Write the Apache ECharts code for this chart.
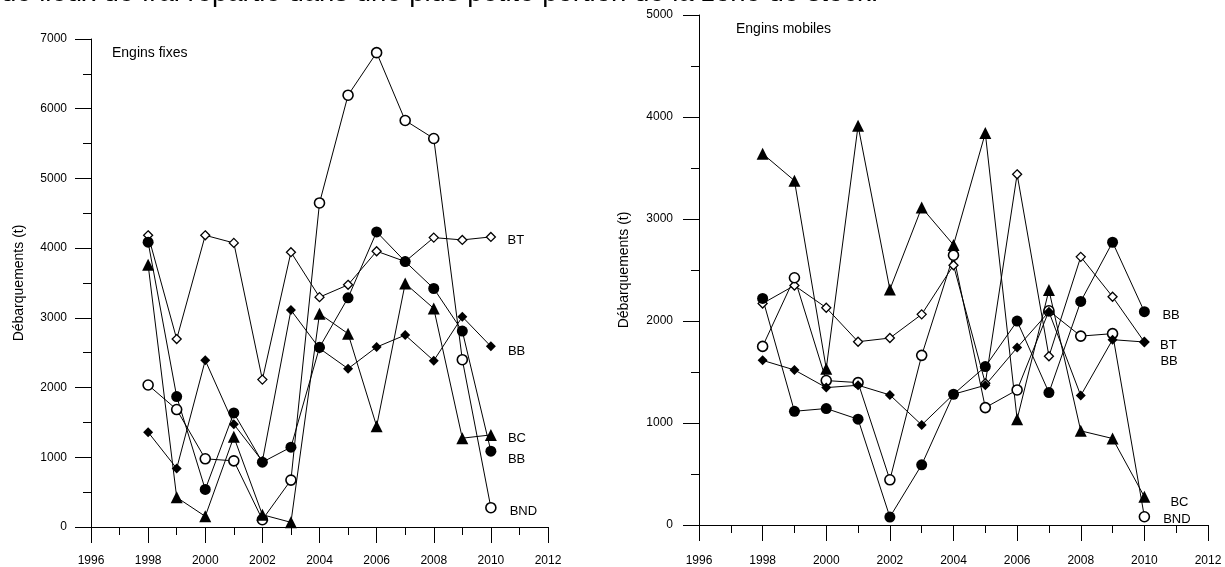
<!DOCTYPE html>
<html>
<head>
<meta charset="utf-8">
<script src="https://cdn.jsdelivr.net/npm/echarts@6/dist/echarts.min.js"></script>
<style>
html,body{margin:0;padding:0;background:#fff;}
#c{width:1225px;height:567px;}
</style>
</head>
<body>
<div id="c"></div>
<script>
// ---- data ----
var years = [1998,1999,2000,2001,2002,2003,2004,2005,2006,2007,2008,2009,2010];
var xTicks = [1996,1998,2000,2002,2004,2006,2008,2010,2012];

// Engins fixes
var fixBT       = [4184,2696,4184,4075,2114,3942,3297,3474,3956,3808,4151,4118,4161];
var fixBND      = [2037,1685, 978, 949, 105, 673,4648,6194,6804,5831,5573,2400, 277];
var fixBBcircle = [4085,1871, 539,1637, 930,1145,2577,3288,4233,3808,3421,2810,1088];
var fixBC       = [3760, 425, 153,1293, 176,  67,3059,2773,1446,3493,3135,1274,1321];
var fixBBdiam   = [1360, 840,2391,1474, 945,3111,2562,2271,2581,2753,2386,3016,2591];

// Engins mobiles
var mobBC       = [3640,3376,1533,3914,2309,3112,2746,3842,1037,2303, 923, 848, 277];
var mobBT       = [2172,2348,2130,1797,1833,2065,2547,1390,3438,1654,2629,2238,1794];
var mobBND      = [1751,2424,1416,1396, 443,1663,2645,1151,1324,2100,1852,1876,  81];
var mobBBcircle = [2221,1115,1142,1037,  78, 590,1282,1553,1999,1298,2192,2772,2091];
var mobBBdiam   = [1614,1520,1347,1370,1275, 981,1282,1370,1739,2090,1269,1817,1794];

var yTitle = 'Débarquements (t)';
var panelTitles = ['Engins fixes','Engins mobiles'];
var topText = 'de lieux de frai répartie dans une plus petite portion de la zone de stock.';

// ---- styles ----
var FONT = 'Liberation Sans, Arial, sans-serif';
var styles = {
  openDiamond:  {symbol:'diamond',  size:9,  fill:'#fff', border:1.3},
  openCircle:   {symbol:'circle',   size:10, fill:'#fff', border:1.6},
  fillCircle:   {symbol:'circle',   size:11, fill:'#000', border:0},
  fillTriangle: {symbol:'triangle', size:12, fill:'#000', border:0},
  fillDiamond:  {symbol:'diamond',  size:10, fill:'#000', border:0}
};

function mk(name, vals, st, axis, lab) {
  var s = styles[st];
  var data = years.map(function(y,i){ return [y, vals[i]]; });
  var last = data.length-1;
  data[last] = {
    value: data[last],
    label: {
      show: true, formatter: name, position: 'right', distance: 0,
      offset: [lab[0] - s.size/2, lab[1]],
      color: '#000', fontFamily: FONT, fontSize: 13
    }
  };
  return {
    type: 'line', name: name, xAxisIndex: axis, yAxisIndex: axis,
    data: data, symbol: s.symbol, symbolSize: s.size, showSymbol: true,
    lineStyle: {color:'#000', width:1},
    itemStyle: {color: s.fill, borderColor:'#000', borderWidth: s.border},
    emphasis: {disabled:true}, animation:false, z: 2
  };
}

function xAx(idx, margin) {
  return {
    type:'value', gridIndex: idx, min:1996, max:2012, interval:2,
    axisLine:{show:true, onZero:false, lineStyle:{color:'#000', width:1}},
    axisTick:{show:true, inside:false, length:16, lineStyle:{color:'#000', width:1}},
    minorTick:{show:true, splitNumber:2, length:8, lineStyle:{color:'#000', width:1}},
    splitLine:{show:false},
    axisLabel:{color:'#000', fontFamily:FONT, fontSize:12, margin:margin, formatter:function(v){return String(v);}}
  };
}
function yAx(idx, max, gap, margin) {
  return {
    type:'value', gridIndex: idx, min:0, max:max, interval:1000,
    name: yTitle, nameLocation:'middle', nameGap: gap, nameRotate: 90,
    nameTextStyle:{color:'#000', fontFamily:FONT, fontSize:14},
    axisLine:{show:true, lineStyle:{color:'#000', width:1}},
    axisTick:{show:true, inside:false, length:16, lineStyle:{color:'#000', width:1}},
    minorTick:{show:true, splitNumber:2, length:8, lineStyle:{color:'#000', width:1}},
    splitLine:{show:false},
    axisLabel:{color:'#000', fontFamily:FONT, fontSize:12, margin:margin, formatter:function(v){return String(v);}}
  };
}

var chart = echarts.init(document.getElementById('c'), null, {renderer:'canvas'});
chart.setOption({
  backgroundColor:'#fff',
  animation:false,
  grid:[
    {left:91, right:677, top:39, bottom:39},
    {left:699, right:17, top:15, bottom:41}
  ],
  xAxis:[xAx(0,28), xAx(1,30)],
  yAxis:[yAx(0,7000,65,24), yAx(1,5000,68,26)],
  graphic:[
    {type:'text', left:1, top:-21, silent:true,
     style:{text:topText, fill:'#000', font:'27.5px Liberation Sans, Arial, sans-serif'}},
    {type:'text', left:112, top:46, silent:true,
     style:{text:panelTitles[0], fill:'#000', font:'14px Liberation Sans, Arial, sans-serif'}},
    {type:'text', left:736, top:22, silent:true,
     style:{text:panelTitles[1], fill:'#000', font:'14px Liberation Sans, Arial, sans-serif'}}
  ],
  series:[
    mk('BT',  fixBT,       'openDiamond',  0, [16, 4]),
    mk('BND', fixBND,      'openCircle',   0, [18, 4]),
    mk('BB',  fixBBcircle, 'fillCircle',   0, [17, 8]),
    mk('BC',  fixBC,       'fillTriangle', 0, [17, 4]),
    mk('BB',  fixBBdiam,   'fillDiamond',  0, [17, 5]),
    mk('BC',  mobBC,       'fillTriangle', 1, [26, 6]),
    mk('BT',  mobBT,       'openDiamond',  1, [15, 3]),
    mk('BND', mobBND,      'openCircle',   1, [18, 3]),
    mk('BB',  mobBBcircle, 'fillCircle',   1, [18, 4]),
    mk('BB',  mobBBdiam,   'fillDiamond',  1, [16, 19])
  ]
});
</script>
</body>
</html>
